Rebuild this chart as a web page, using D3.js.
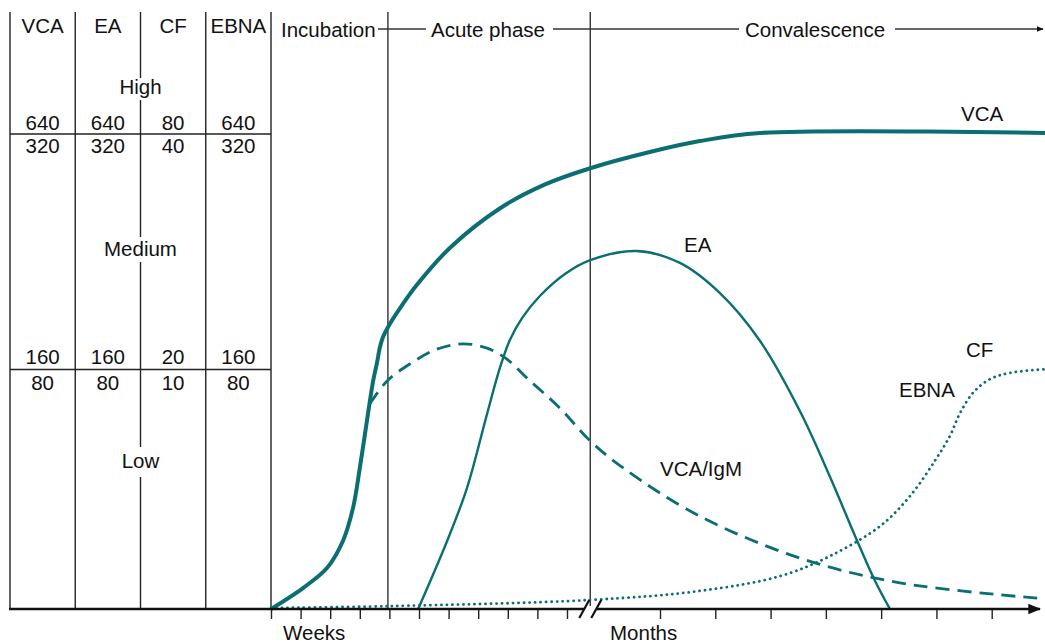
<!DOCTYPE html>
<html>
<head>
<meta charset="utf-8">
<script src="https://cdn.jsdelivr.net/npm/d3@7"></script>
<style>
  body { margin: 0; background: #fff; }
  text { font-family: "Liberation Sans", Arial, Helvetica, sans-serif; font-size: 20.5px; fill: #111; }
</style>
</head>
<body>
<svg id="drawing_region" width="1045" height="643"></svg>
<script>
// antibody columns and titer rows of the left table
const antibodies = ["VCA", "EA", "CF", "EBNA"];
const highTop = ["640", "640", "80", "640"];
const highBottom = ["320", "320", "40", "320"];
const lowTop = ["160", "160", "20", "160"];
const lowBottom = ["80", "80", "10", "80"];
const levels = ["High", "Medium", "Low"];

// phases (time units: weeks 0..10, then months after the break)
const phases = ["Incubation", "Acute phase", "Convalescence"];
const phaseBounds = [0, 3.95, 10.25];
const weekTicks = [0, 1, 2, 3, 4, 5, 6, 7, 8, 9, 10];
const monthTicks = [11, 12, 13, 14, 15, 16, 17];

// curves: [time, relative level 0..100]
const vca = [[0,0],[1.08,4.4],[1.89,8.6],[2.43,14.3],[2.77,21.2],[3.0,29.6],[3.24,39.5],[3.45,47.9],
  [3.58,51.7],[3.68,55.0],[3.78,57.1],[3.95,59.2],[4.36,63.2],[4.93,68.1],[6.05,75.9],[7.74,84.2],
  [9.26,89.2],[10.25,92.6],[10.89,96.0],[11.72,98.3],[12.81,100],[18,100]];
const vcaIgm = [[3.34,43.1],[3.92,47.9],[4.70,51.5],[5.61,54.6],[6.49,55.7],[7.30,54.8],[7.97,52.5],
  [8.65,48.5],[9.76,42.2],[10.25,35.3],[10.62,29.4],[11.72,19.5],[13.53,10.7],[15.34,5.5],[18,2.1]];
const ea = [[4.97,0],[5.95,14.3],[6.62,25.4],[7.30,41.0],[7.74,50.8],[8.07,56.5],[8.48,61.1],[9.09,65.8],
  [9.93,70.4],[10.25,73.3],[10.75,75.2],[11.36,72.7],[12.08,66.4],[12.81,56.3],[13.53,41.6],[14.07,27.9],
  [14.53,15.3],[14.89,5.9],[15.16,0]];
const ebnaCf = [[0,0.2],[3.95,0.6],[10.25,1.9],[11.72,3.8],[13.17,6.9],[14.07,11.1],[14.98,17.4],
  [15.52,23.7],[15.97,31.1],[16.25,36.5],[16.42,41.0],[16.66,45.4],[16.97,48.3],[17.33,49.6],[18,50.4]];

const teal = "#0b6f71";
const svg = d3.select("#drawing_region");

const x = d3.scaleLinear().domain([0, 10, 11, 18]).range([271, 567, 660, 1047]);
const y = d3.scaleLinear().domain([0, 100]).range([609, 133]);
const col = d3.scaleBand().domain(antibodies).range([10, 271]);

const defs = svg.append("defs");
defs.append("marker").attr("id", "arrow")
    .attr("viewBox", "0 0 10 10").attr("refX", 9).attr("refY", 5)
    .attr("markerWidth", 5).attr("markerHeight", 5).attr("markerUnits", "strokeWidth")
    .attr("orient", "auto")
  .append("path").attr("d", "M0,1L10,5L0,9Z").attr("fill", "#111");

const topY = 12;

// table column lines
const colEdges = antibodies.map(d => col(d)).concat([271]);
svg.selectAll(".colline").data(colEdges.filter((d, i) => i !== 2)).enter().append("line")
    .attr("x1", d => d).attr("x2", d => d)
    .attr("y1", topY).attr("y2", y(0))
    .attr("stroke", "#222").attr("stroke-width", 1.4);

// middle column line, broken around level labels
const midX = col("CF");
const midSegments = [[topY, 78], [100, 237], [262, 447], [477, y(0)]];
svg.selectAll(".midline").data(midSegments).enter().append("line")
    .attr("x1", midX).attr("x2", midX)
    .attr("y1", d => d[0]).attr("y2", d => d[1])
    .attr("stroke", "#222").attr("stroke-width", 1.4);

// table horizontal lines
[100, 50].forEach(v => {
  const yy = y(v) + (v === 100 ? 1 : -1.5);
  svg.append("line").attr("x1", 10).attr("x2", 271)
      .attr("y1", yy).attr("y2", yy)
      .attr("stroke", "#222").attr("stroke-width", 1.4);
});

// table texts
const centre = d => col(d) + col.bandwidth() / 2;
const rows = [[antibodies, 33], [highTop, 130], [highBottom, 153], [lowTop, 364], [lowBottom, 390]];
rows.forEach(r => {
  svg.append("g").selectAll("text").data(r[0]).enter().append("text")
      .attr("x", (d, i) => centre(antibodies[i]))
      .attr("y", r[1])
      .attr("text-anchor", "middle")
      .text(d => d);
});
const levelY = [94, 256, 468];
svg.append("g").selectAll("text").data(levels).enter().append("text")
    .attr("x", midX).attr("y", (d, i) => levelY[i])
    .attr("text-anchor", "middle").text(d => d);

// phase boundary lines
svg.selectAll(".phase").data(phaseBounds.slice(1)).enter().append("line")
    .attr("x1", d => x(d)).attr("x2", d => x(d))
    .attr("y1", topY).attr("y2", y(0))
    .attr("stroke", "#333").attr("stroke-width", 1.4);

// phase header
svg.append("g").selectAll("text").data(phases).enter().append("text")
    .attr("x", (d, i) => [281, 431, 745][i])
    .attr("y", 37)
    .text(d => d);
const hdr = [[378, 426], [553, 739], [895, 1043]];
svg.selectAll(".hdr").data(hdr).enter().append("line")
    .attr("x1", d => d[0]).attr("x2", d => d[1])
    .attr("y1", 29).attr("y2", 29)
    .attr("stroke", "#333").attr("stroke-width", 1.4)
    .attr("marker-end", (d, i) => i === hdr.length - 1 ? "url(#arrow)" : null);

// curves
const line = d3.line().x(d => x(d[0])).y(d => y(d[1])).curve(d3.curveCatmullRom.alpha(0.5));
svg.append("path").datum(ebnaCf).attr("d", line).attr("fill", "none")
    .attr("stroke", teal).attr("stroke-width", 2.8)
    .attr("stroke-linecap", "round").attr("stroke-dasharray", "0.1 5.4");
svg.append("path").datum(vcaIgm).attr("d", line).attr("fill", "none")
    .attr("stroke", teal).attr("stroke-width", 2.8).attr("stroke-dasharray", "14 8");
svg.append("path").datum(ea).attr("d", line).attr("fill", "none")
    .attr("stroke", teal).attr("stroke-width", 2.4);
svg.append("path").datum(vca).attr("d", line).attr("fill", "none")
    .attr("stroke", teal).attr("stroke-width", 4);

// curve labels
const labels = [["VCA", 961, 121], ["EA", 684, 252], ["VCA/IgM", 660, 476], ["CF", 966, 357], ["EBNA", 899, 397]];
svg.append("g").selectAll("text").data(labels).enter().append("text")
    .attr("x", d => d[1]).attr("y", d => d[2]).text(d => d[0]);

// time axis
const axis = d3.axisBottom(x).tickValues(weekTicks.concat(monthTicks))
    .tickSize(10).tickFormat("");
const gAxis = svg.append("g").attr("transform", `translate(0,${y(0)})`).call(axis);
gAxis.select(".domain").remove();
gAxis.selectAll(".tick line").attr("stroke", "#222").attr("stroke-width", 1.4);

svg.append("line").attr("x1", 9).attr("x2", 1040)
    .attr("y1", y(0)).attr("y2", y(0))
    .attr("stroke", "#111").attr("stroke-width", 2.6)
    .attr("marker-end", "url(#arrow)");

// axis break
const bx = x(10.25);
svg.append("rect").attr("x", bx - 6).attr("y", y(0) - 3).attr("width", 12).attr("height", 6).attr("fill", "#fff");
[-6, 6].forEach(o => {
  svg.append("line")
      .attr("x1", bx + o - 5).attr("y1", y(0) + 9)
      .attr("x2", bx + o + 5).attr("y2", y(0) - 9)
      .attr("stroke", "#111").attr("stroke-width", 2.2);
});

svg.append("text").attr("x", 283).attr("y", 640).text("Weeks");
svg.append("text").attr("x", 610).attr("y", 640).text("Months");
</script>
</body>
</html>
